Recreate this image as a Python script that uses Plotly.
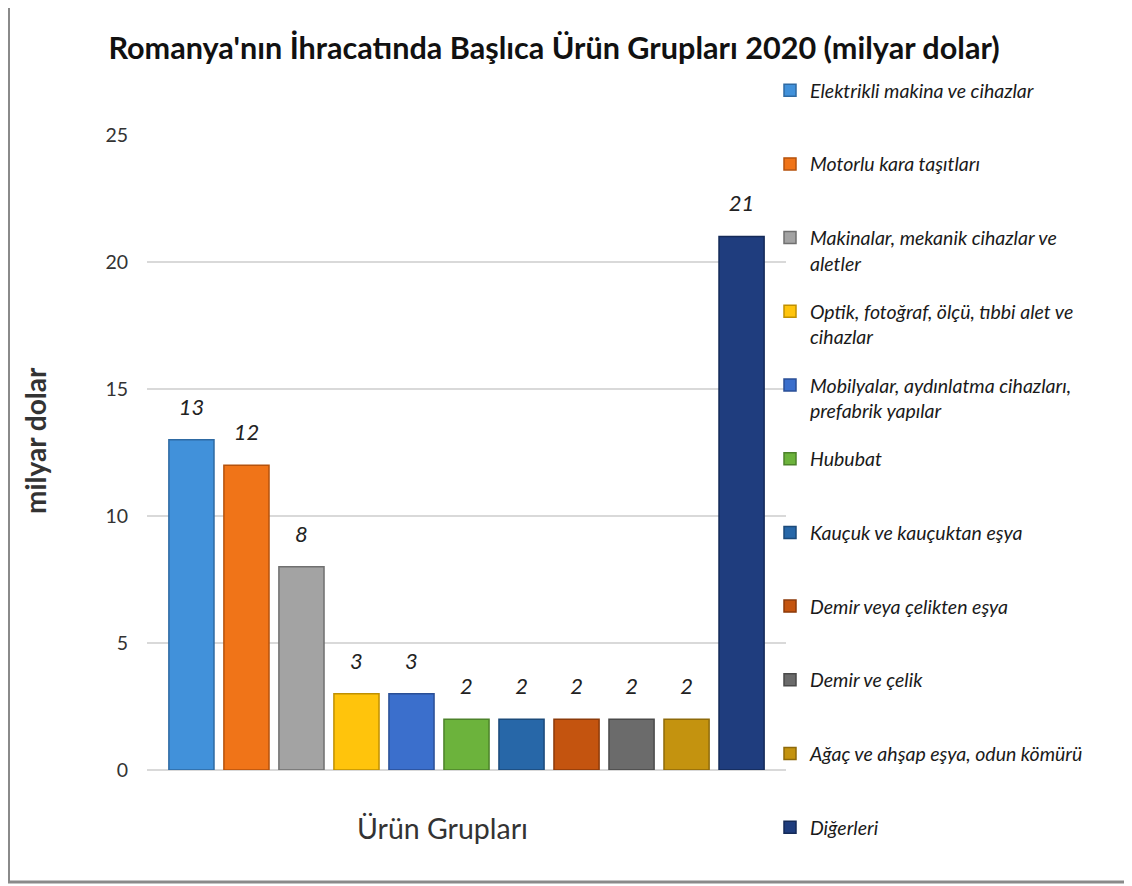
import plotly.graph_objects as go

categories = [
    "Elektrikli makina ve cihazlar",
    "Motorlu kara taşıtları",
    "Makinalar, mekanik cihazlar ve<br>aletler",
    "Optik, fotoğraf, ölçü, tıbbi alet ve<br>cihazlar",
    "Mobilyalar, aydınlatma cihazları,<br>prefabrik yapılar",
    "Hububat",
    "Kauçuk ve kauçuktan eşya",
    "Demir veya çelikten eşya",
    "Demir ve çelik",
    "Ağaç ve ahşap eşya, odun kömürü",
    "Diğerleri",
]
values = [13, 12, 8, 3, 3, 2, 2, 2, 2, 2, 21]
colors = ["#4191da", "#f07418", "#a3a3a3", "#ffc40c", "#3b6fcc", "#6cb33c",
          "#2767a8", "#c4540f", "#6b6b6b", "#c4930f", "#1f3d7e"]
edge = ["#2e6aa3", "#b5520c", "#707070", "#c09000", "#2a4f96", "#4c822a",
        "#1b4a7a", "#8c3a0a", "#4a4a4a", "#8e6a0a", "#142a58"]
group_label = "Ürün Grupları"
y_ticks = [0, 5, 10, 15, 20, 25]

fig = go.Figure()
for name, v, c, e in zip(categories, values, colors, edge):
    label = name if "<br>" in name else name + "<br> "
    fig.add_trace(go.Bar(
        x=[group_label], y=[v], name=label, legendgroup=name,
        marker=dict(color=c, line=dict(color=e, width=1.5)),
        hoverinfo="name+y",
    ))
# value labels, grouped the same way as the bars
for name, v in zip(categories, values):
    fig.add_trace(go.Scatter(
        x=[group_label], y=[v], mode="markers+text", text=[str(v)],
        textposition="top center", showlegend=False, hoverinfo="skip",
        marker=dict(size=30, opacity=0, color="white"),
        textfont=dict(family="Lato", size=22, color="#222222", style="italic"),
        cliponaxis=False,
    ))

# page body has an 8px margin; positions below are page pixels, shifted by OFF
OFF = 8
L, R, T, B = 147 - OFF, 786 - OFF, 135 - OFF, 770 - OFF
W, H = R - L, B - T

def px_x(x):
    return (x - OFF - L) / W

def px_y(y):
    return (B - (y - OFF)) / H

fig.update_layout(
    width=1132, height=886,
    margin=dict(l=L, r=1132 - R, t=T, b=886 - B, autoexpand=False),
    paper_bgcolor="white", plot_bgcolor="white",
    barmode="group", bargap=0.053, bargroupgap=0.18,
    scattermode="group", scattergap=0.053,
    title=dict(text="Romanya'nın İhracatında Başlıca Ürün Grupları 2020 (milyar dolar)",
               x=(554 - OFF) / 1132, xanchor="center", xref="container",
               y=1 - (48 - OFF) / 886, yanchor="middle", yref="container",
               font=dict(family="Lato", size=30.6, color="#111111", weight="bold")),
    showlegend=True,
    legend=dict(x=px_x(770), xanchor="left", y=px_y(71), yanchor="top",
                font=dict(family="Lato", size=19.5, color="#1a1a1a", style="italic"),
                valign="top", tracegroupgap=20, traceorder="grouped",
                maxheight=1.0, bgcolor="rgba(0,0,0,0)"),
    xaxis=dict(showticklabels=False, showgrid=False, showline=False, zeroline=False),
    yaxis=dict(range=[0, 25], tickvals=y_ticks, showgrid=True, gridcolor="#d9d9d9",
               gridwidth=1.5, zeroline=True, zerolinecolor="#d9d9d9", zerolinewidth=1.5,
               showline=False, ticks="", ticklabelstandoff=18,
               tickfont=dict(family="Lato", size=19.5, color="#333333")),
    font=dict(family="Lato"),
)

fig.add_annotation(text="milyar dolar", xref="paper", yref="paper",
                   x=px_x(35), y=px_y(441), xanchor="center", yanchor="middle",
                   textangle=-90, showarrow=False,
                   font=dict(family="Lato", size=28, color="#333333", weight="bold"))
fig.add_annotation(text=group_label, xref="paper", yref="paper",
                   x=px_x(442), y=px_y(828), xanchor="center", yanchor="middle",
                   showarrow=False,
                   font=dict(family="Lato", size=28.5, color="#333333"))

fig.add_shape(type="rect", xref="paper", yref="paper",
              x0=px_x(8.5), x1=px_x(1180), y0=px_y(882), y1=px_y(5.5),
              line=dict(color="#8a8a8a", width=3), layer="below")

fig.write_html("out.html")
